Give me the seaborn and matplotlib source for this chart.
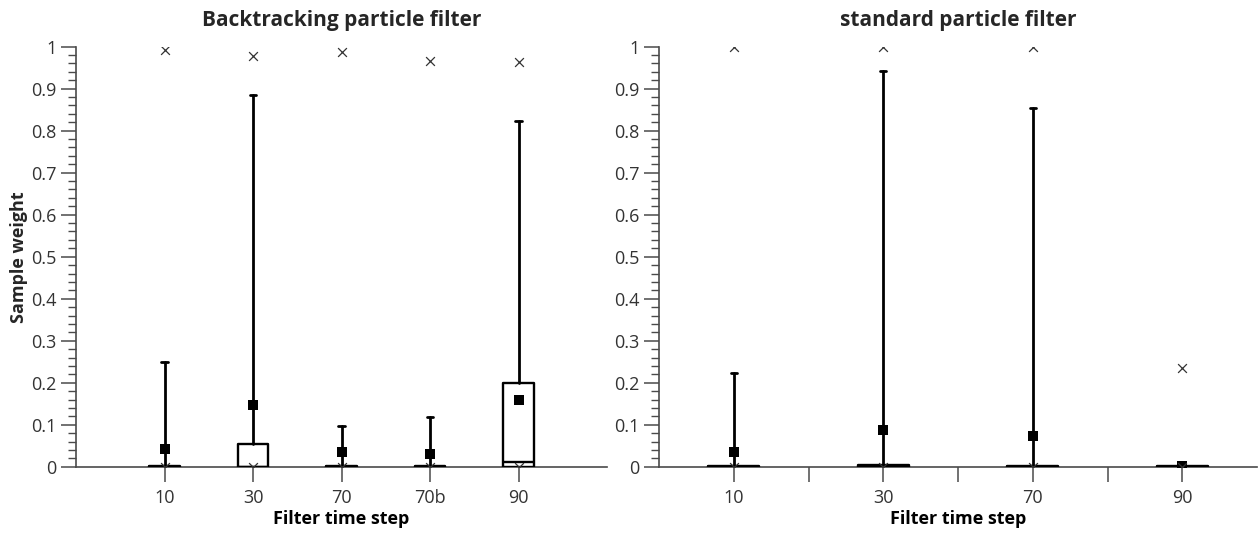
import numpy as np
import pandas as pd
import matplotlib
matplotlib.use("Agg")
import matplotlib.pyplot as plt
import seaborn as sns
from matplotlib.ticker import MultipleLocator, FuncFormatter

# Backtracking particle filter: per-time-step weight statistics
bt_steps = ["10", "30", "70", "70b", "90"]
bt_q1 = [0.0, 0.0, 0.0, 0.0, 0.0]
bt_median = [0.0, 0.0, 0.0, 0.0, 0.011]
bt_q3 = [0.002, 0.054, 0.002, 0.002, 0.199]
bt_whisker_top = [0.25, 0.886, 0.098, 0.118, 0.823]
bt_mean = [0.043, 0.148, 0.036, 0.031, 0.158]
bt_min = [0.0, 0.0, 0.0, 0.0, 0.0]
bt_max = [0.992, 0.977, 0.988, 0.966, 0.963]

# Standard particle filter
std_steps = ["10", "30", "70", "90"]
std_q1 = [0.0, 0.0, 0.0, 0.0]
std_median = [0.0, 0.0, 0.0, 0.0]
std_q3 = [0.001, 0.004, 0.001, 0.001]
std_whisker_top = [0.222, 0.942, 0.853, 0.001]
std_mean = [0.034, 0.087, 0.072, 0.001]
std_min = [0.0, 0.0, 0.0, 0.0]
std_max = [1.0, 1.0, 1.0, 0.234]

sns.set_theme(style="ticks")
plt.rcParams["font.family"] = ["Open Sans", "DejaVu Sans"]

AXIS_GREY = "#4a4a4a"
TEXT_GREY = "#333333"

fig = plt.figure(figsize=(12.59, 5.34), dpi=100)
H = 534.0
W = 1259.0
bottom = (H - 466.7) / H
height = 420.0 / H
ax_bt = fig.add_axes([76 / W, bottom, 531 / W, height])
ax_std = fig.add_axes([659 / W, bottom, 598 / W, height])


def draw_panel(ax, steps, q1, med, q3, wtop, mean, vmin, vmax, capw):
    pos = np.arange(len(steps))
    stats = [
        dict(q1=a, med=m, q3=b, whislo=a, whishi=w, fliers=[])
        for a, m, b, w in zip(q1, med, q3, wtop)
    ]
    ax.bxp(
        stats, positions=pos, widths=0.34, capwidths=capw,
        showfliers=False, manage_ticks=False,
        boxprops=dict(color="black", lw=1.7),
        medianprops=dict(color="black", lw=1.7),
        whiskerprops=dict(color="black", lw=2.0),
        capprops=dict(color="black", lw=2.0),
        zorder=3,
    )
    means = pd.DataFrame({"pos": pos, "mean": mean})
    sns.scatterplot(data=means, x="pos", y="mean", marker="s", s=62,
                    color="black", edgecolor="black", linewidth=0,
                    ax=ax, zorder=4, legend=False)
    ext = pd.DataFrame({"pos": np.r_[pos, pos], "value": list(vmin) + list(vmax)})
    sns.scatterplot(data=ext, x="pos", y="value", marker="x", s=40,
                    color="#333333", linewidth=0.9, ax=ax, zorder=4,
                    legend=False)

    ax.set_ylim(0, 1)
    ax.yaxis.set_major_locator(MultipleLocator(0.1))
    ax.yaxis.set_minor_locator(MultipleLocator(0.02))
    ax.yaxis.set_major_formatter(FuncFormatter(lambda v, p: f"{round(v, 2):g}"))
    ax.set_xticks(pos, steps)
    ax.tick_params(axis="x", which="both", direction="out", length=11,
                   width=1.1, color=AXIS_GREY, pad=5, labelsize=13,
                   labelcolor=TEXT_GREY)
    ax.tick_params(axis="y", which="major", direction="out", length=11,
                   width=1.1, color=AXIS_GREY, pad=3, labelsize=13,
                   labelcolor=TEXT_GREY)
    ax.tick_params(axis="y", which="minor", direction="out", length=6,
                   width=1.0, color=AXIS_GREY)
    for side in ("top", "right"):
        ax.spines[side].set_visible(False)
    for side in ("left", "bottom"):
        ax.spines[side].set_color(AXIS_GREY)
        ax.spines[side].set_linewidth(1.2)
    ax.set_xlabel("Filter time step", fontsize=13, fontweight="bold",
                  color="black", labelpad=2)
    ax.set_ylabel("")


draw_panel(ax_bt, bt_steps, bt_q1, bt_median, bt_q3, bt_whisker_top,
           bt_mean, bt_min, bt_max, capw=0.07)
ax_bt.set_xlim(-1, 5)
ax_bt.set_title("Backtracking particle filter", fontsize=15,
                fontweight="bold", pad=15)
ax_bt.set_ylabel("Sample weight", fontsize=13, fontweight="bold",
                 labelpad=2)

draw_panel(ax_std, std_steps, std_q1, std_median, std_q3, std_whisker_top,
           std_mean, std_min, std_max, capw=0.04)
ax_std.set_xlim(-0.5, 3.5)
ax_std.set_xticks([0.5, 1.5, 2.5], minor=True)
ax_std.set_title("standard particle filter", fontsize=15,
                 fontweight="bold", pad=15)

fig.savefig("out.png", dpi=100)
